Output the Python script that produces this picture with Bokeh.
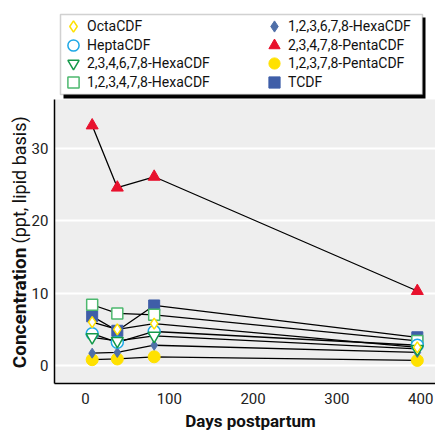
import math
from bokeh.plotting import figure
from bokeh.models import (Range1d, FixedTicker, Legend, LegendItem, BoxAnnotation, Label)
from bokeh.embed import file_html
from bokeh.resources import INLINE

# ---- data ----
days = [8, 38, 82, 396]
octa_cdf = [6.0, 5.0, 5.8, 2.5]
hepta_cdf = [4.4, 3.2, 4.7, 2.8]
hexa_234678 = [3.9, 3.4, 4.1, 2.3]
hexa_123478 = [8.4, 7.2, 7.0, 3.4]
hexa_123678 = [1.7, 1.8, 2.8, 1.8]
penta_23478 = [33.2, 24.6, 26.1, 10.3]
penta_12378 = [0.8, 0.9, 1.2, 0.7]
tcdf = [6.8, 4.8, 8.3, 3.9]

x_ticks = [0, 100, 200, 300, 400]
y_ticks = [0, 10, 20, 30]

FONT = "Roboto"

# plotting region (data units) inside a full-canvas frame
X0, X1 = -37.0, 417.7
Y0, Y1 = -2.49, 36.79

W, H = 435, 432
p = figure(width=W, height=H, output_backend="svg", toolbar_location=None,
           x_range=Range1d(-101.4, X1), y_range=Range1d(-9.27, 50.48),
           min_border_left=0, min_border_right=0, min_border_top=0, min_border_bottom=0,
           background_fill_color="white", border_fill_color="white",
           outline_line_color=None)

# gray plotting area
p.add_layout(BoxAnnotation(left=X0, bottom=Y0, top=Y1, fill_color="#eeeeee",
                           fill_alpha=1, line_color=None, level="image"))

p.xgrid.grid_line_color = None
p.ygrid.grid_line_color = "white"
p.ygrid.grid_line_width = 2
p.xaxis.ticker = FixedTicker(ticks=x_ticks)
p.yaxis.ticker = FixedTicker(ticks=y_ticks)
p.xaxis.fixed_location = Y0
p.yaxis.fixed_location = X0
p.xaxis.bounds = (X0, X1)
p.yaxis.bounds = (Y0, Y1)
for ax in (p.xaxis[0], p.yaxis[0]):
    ax.axis_line_color = "black"
    ax.axis_line_width = 1.5
    ax.major_tick_line_color = None
    ax.minor_tick_line_color = None
    ax.major_tick_out = 0
    ax.major_tick_in = 0
    ax.minor_tick_out = 0
    ax.minor_tick_in = 0
    ax.major_label_text_font = FONT
    ax.major_label_text_font_size = "15px"
    ax.major_label_text_color = "#222222"
p.xaxis.major_label_standoff = 10
p.yaxis.major_label_standoff = 6

series = [
    # name, values, marker, size, fill, line, lw
    ("TCDF", tcdf, "square", 11, "#3f5ea8", "#3f5ea8", 1),
    ("2,3,4,7,8-PentaCDF", penta_23478, "triangle", 12, "#e8112d", "#e8112d", 1),
    ("1,2,3,7,8-PentaCDF", penta_12378, "circle", 12, "#ffe100", "#ffe100", 1),
    ("1,2,3,6,7,8-HexaCDF", hexa_123678, "diamond", 10, "#4f6fa8", "#4f6fa8", 1),
    ("1,2,3,4,7,8-HexaCDF", hexa_123478, "square", 11, "white", "#4cb86e", 1.5),
    ("HeptaCDF", hepta_cdf, "circle", 12, "white", "#1ea8e6", 1.5),
    ("2,3,4,6,7,8-HexaCDF", hexa_234678, "inverted_triangle", 12, "white", "#14994a", 1.5),
    ("OctaCDF", octa_cdf, "diamond", 11, "white", "#ffe100", 1.5),
]

for name, vals, *_ in series:
    p.line(days, vals, line_color="black", line_width=1.3)

rend = {}
for name, vals, marker, size, fill, line, lw in series:
    rend[name] = p.scatter(days, vals, marker=marker, size=size, fill_color=fill,
                           line_color=line, line_width=lw)

# legend frame with drop shadow (screen units from bottom-left of canvas)
p.add_layout(BoxAnnotation(left=63, right=425, top=415, bottom=334,
                           left_units="screen", right_units="screen",
                           top_units="screen", bottom_units="screen",
                           fill_color="black", fill_alpha=1, line_color=None))
p.add_layout(BoxAnnotation(left=60, right=422, top=418, bottom=338,
                           left_units="screen", right_units="screen",
                           top_units="screen", bottom_units="screen",
                           fill_color="white", fill_alpha=1, line_color="#666666",
                           line_width=1.5))

col1 = ["OctaCDF", "HeptaCDF", "2,3,4,6,7,8-HexaCDF", "1,2,3,4,7,8-HexaCDF"]
col2 = ["1,2,3,6,7,8-HexaCDF", "2,3,4,7,8-PentaCDF", "1,2,3,7,8-PentaCDF", "TCDF"]
row_y = [26, 45, 63, 82]      # glyph centres, px from top of canvas
col_x = [(73, -4), (274, 0)]  # glyph centre x (canvas px), label standoff

for (gx, standoff), names in zip(col_x, [col1, col2]):
    for gy, n in zip(row_y, names):
        lg = Legend(items=[LegendItem(label=n, renderers=[rend[n]])],
                    location=(gx - 14, H - (gy + 14)),
                    glyph_width=28, glyph_height=28, label_height=28,
                    padding=0, margin=0, label_standoff=standoff,
                    border_line_color=None, background_fill_alpha=0,
                    label_text_font=FONT, label_text_font_size="14px",
                    label_text_color="#111111")
        p.add_layout(lg)

# axis titles (screen units from bottom-left of canvas)
p.add_layout(Label(x=19, y=185, x_units="screen", y_units="screen", angle=math.pi / 2,
                   text="Concentration", text_font=FONT, text_font_style="bold",
                   text_font_size="19px", text_align="right", text_baseline="middle",
                   text_color="#111111"))
p.add_layout(Label(x=19, y=189, x_units="screen", y_units="screen", angle=math.pi / 2,
                   text="(ppt, lipid basis)", text_font=FONT, text_font_style="normal",
                   text_font_size="18px", text_align="left", text_baseline="middle",
                   text_color="#111111"))
p.add_layout(Label(x=250, y=12, x_units="screen", y_units="screen",
                   text="Days postpartum", text_font=FONT, text_font_style="bold",
                   text_font_size="17px", text_align="center", text_baseline="alphabetic",
                   text_color="#111111"))

open("out.html", "w").write(file_html(p, INLINE))
